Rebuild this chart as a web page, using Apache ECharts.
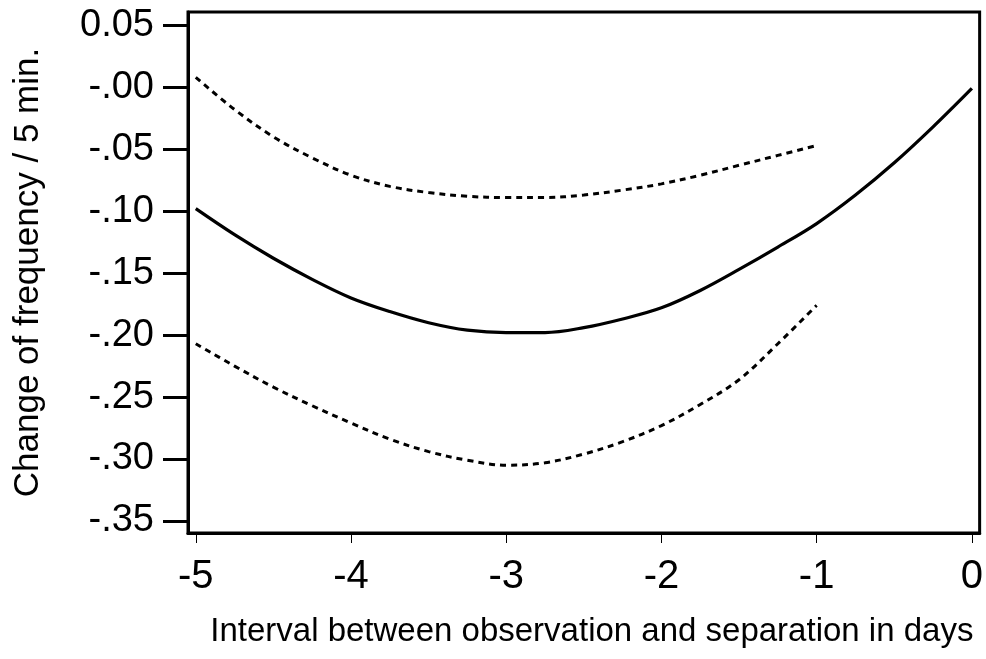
<!DOCTYPE html>
<html>
<head>
<meta charset="UTF-8">
<script type="text/javascript" src="https://cdn.jsdelivr.net/npm/echarts@6/dist/echarts.min.js"></script>
<style>
  body { margin: 0; background: #fff; }
  #chartmain { width: 986px; height: 659px; }
</style>
</head>
<body>
<div id="chartmain"></div>
<script type="text/javascript">
	// x positions (days), step 0.25
	var days = [-5, -4.75, -4.5, -4.25, -4, -3.75, -3.5, -3.25, -3, -2.75, -2.5,
		-2.25, -2, -1.75, -1.5, -1.25, -1, -0.75, -0.5, -0.25, 0];
	// fitted curve (solid)
	var estimate = [-0.098, -0.119, -0.138, -0.155, -0.170, -0.181, -0.190, -0.196, -0.198, -0.198, -0.194,
		-0.187, -0.178, -0.164, -0.147, -0.129, -0.110, -0.087, -0.061, -0.032, -0.001];
	// confidence bands (dotted), only up to -1
	var upperBand = [0.008, -0.018, -0.040, -0.057, -0.071, -0.080, -0.085, -0.088, -0.089, -0.089, -0.087,
		-0.083, -0.078, -0.071, -0.063, -0.055, -0.047];
	var lowerBand = [-0.207, -0.225, -0.242, -0.257, -0.271, -0.284, -0.294, -0.301, -0.305, -0.303, -0.296,
		-0.286, -0.273, -0.256, -0.236, -0.207, -0.176];
	// tick labels
	var xTicks = [-5, -4, -3, -2, -1, 0];
	var yTicks = [0.05, 0, -0.05, -0.10, -0.15, -0.20, -0.25, -0.30, -0.35];
	var yTickLabels = ['0.05', '-.00', '-.05', '-.10', '-.15', '-.20', '-.25', '-.30', '-.35'];

	function pairs(xs, ys){
		var out = [];
		for(var i = 0; i < ys.length; i++){
			out.push([xs[i], ys[i]]);
		}
		return out;
	}

	var option = {
		animation: false,
		backgroundColor: '#fff',
		grid: {
			left: 188, right: 5, top: 12, bottom: 126,
			show: true, borderColor: '#000', borderWidth: 3
		},
		xAxis: {
			type: 'value',
			min: -5.05, max: 0.05,
			name: 'Interval between observation and separation in days',
			nameLocation: 'middle',
			nameGap: 82,
			nameTextStyle: { fontFamily: 'Liberation Sans', fontSize: 33, color: '#000', padding: [0, 0, 0, 16] },
			axisLine: { show: true, onZero: false, lineStyle: { color: '#000', width: 3 } },
			axisTick: { show: true, customValues: xTicks, length: 10, lineStyle: { color: '#000', width: 1 } },
			axisLabel: {
				customValues: xTicks,
				margin: 24,
				fontFamily: 'Liberation Sans', fontSize: 40, color: '#000'
			},
			splitLine: { show: false }
		},
		yAxis: {
			type: 'value',
			min: -0.3597, max: 0.0607,
			name: 'Change of frequency / 5 min.',
			nameLocation: 'middle',
			nameGap: 142,
			nameTextStyle: { fontFamily: 'Liberation Sans', fontSize: 35, color: '#000' },
			axisLine: { show: true, onZero: false, lineStyle: { color: '#000', width: 3 } },
			axisTick: { show: true, customValues: yTicks, length: 25, lineStyle: { color: '#000', width: 3 } },
			axisLabel: {
				customValues: yTicks,
				margin: 34,
				fontFamily: 'Liberation Sans', fontSize: 38, color: '#000',
				formatter: function(v){
					for(var i = 0; i < yTicks.length; i++){
						if(Math.abs(yTicks[i] - v) < 1e-9) return yTickLabels[i];
					}
					return '';
				}
			},
			splitLine: { show: false }
		},
		series: [
			{
				name: 'estimate', type: 'line', data: pairs(days, estimate),
				smooth: 0.35, showSymbol: false,
				lineStyle: { color: '#000', width: 3.2, type: 'solid' }
			},
			{
				name: 'upper', type: 'line', data: pairs(days, upperBand),
				smooth: 0.35, showSymbol: false,
				lineStyle: { color: '#000', width: 3, type: [6, 5] }
			},
			{
				name: 'lower', type: 'line', data: pairs(days, lowerBand),
				smooth: 0.35, showSymbol: false,
				lineStyle: { color: '#000', width: 3, type: [6, 5] }
			}
		]
	};

	var myChart = echarts.init(document.getElementById('chartmain'));
	myChart.setOption(option);
</script>
</body>
</html>
